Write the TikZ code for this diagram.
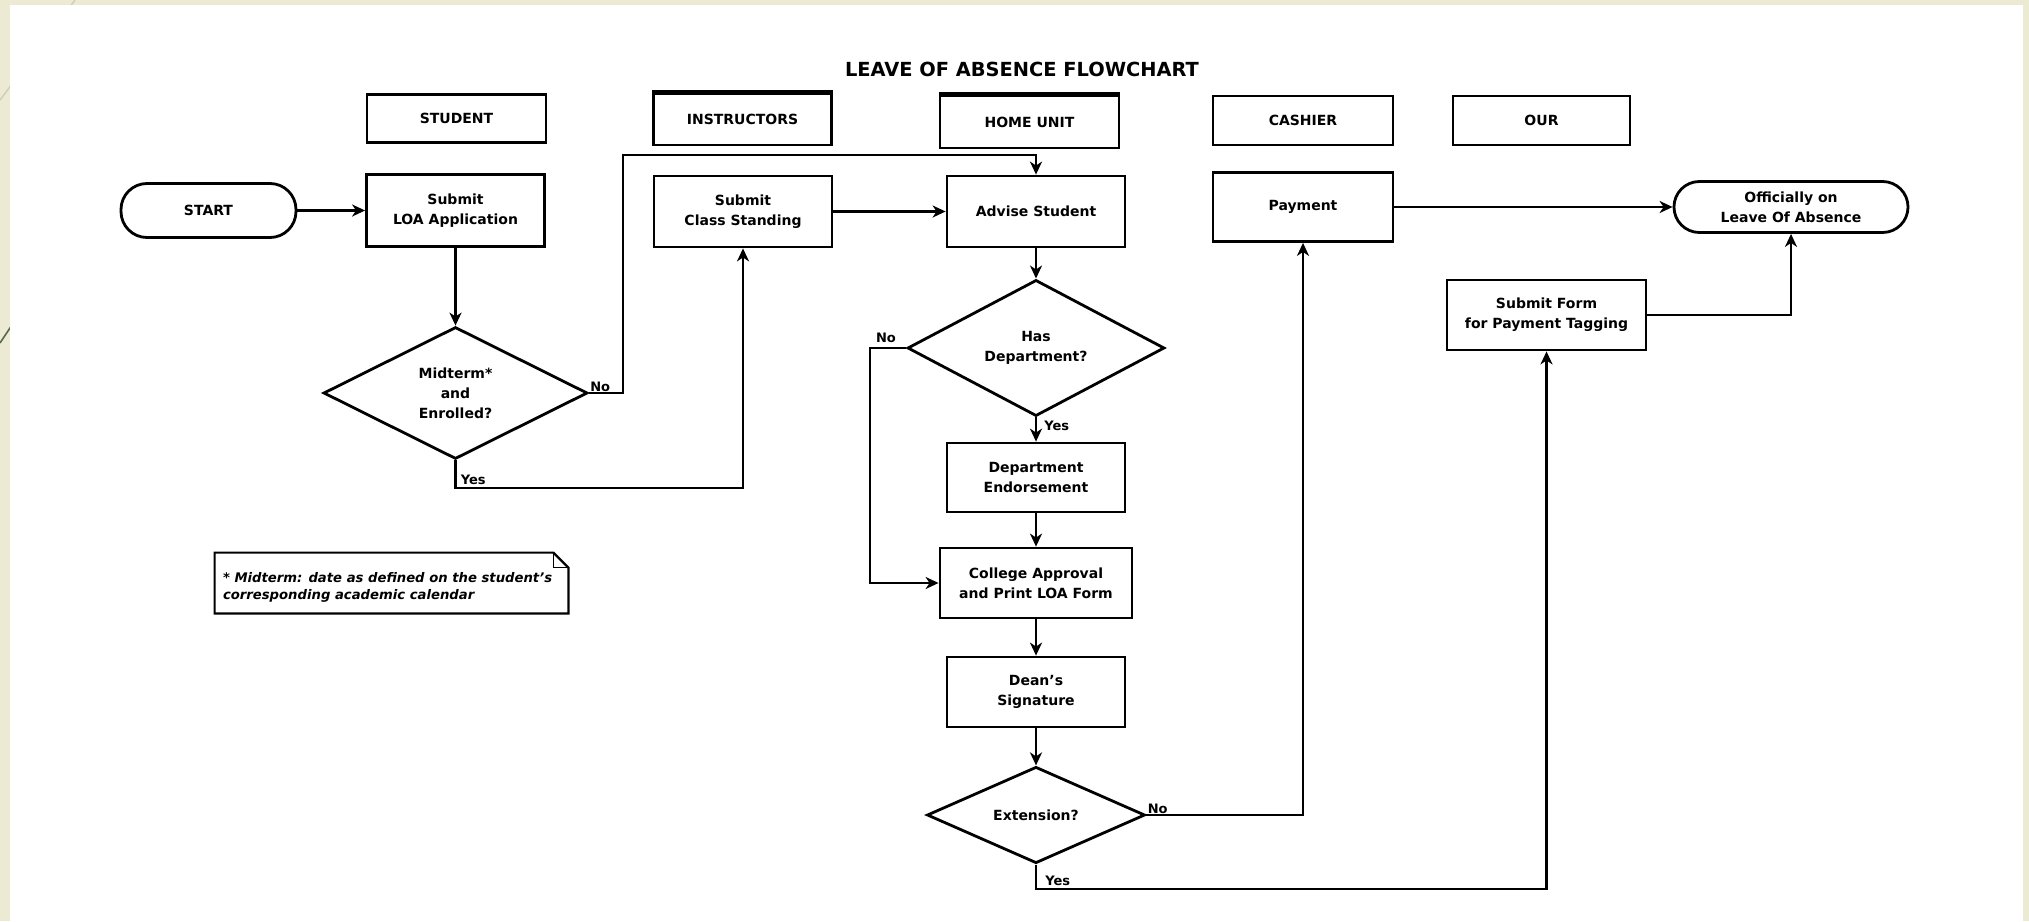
\documentclass[tikz,border=0pt]{standalone}
\usepackage{fontspec}
\setmainfont{DejaVu Sans}
\usetikzlibrary{shapes.geometric,arrows.meta}
\definecolor{slidebg}{RGB}{237,234,212}
\definecolor{lightln}{RGB}{200,203,182}
\definecolor{darkln}{RGB}{92,104,72}
\tikzset{
  box/.style={draw, line width=1.4pt, rectangle, inner sep=0pt, align=center,
    font=\fontsize{7}{10}\selectfont\bfseries},
  term/.style={box, rounded corners=13pt},
  dec/.style={draw, line width=1.4pt, diamond, inner sep=0pt, align=center,
    font=\fontsize{7}{10}\selectfont\bfseries},
  arr/.style={line width=1.1pt, -{Stealth[length=6.5pt,width=6pt,inset=2pt]}},
  lbl/.style={inner sep=0.5pt, font=\fontsize{6.5}{8}\selectfont\bfseries},
}
\begin{document}
\begin{tikzpicture}[x=0.5pt,y=-0.5pt]
\useasboundingbox (0,0) rectangle (2029,921);
% slide background
\fill[slidebg] (0,0) rectangle (2029,921);
\draw[lightln, line width=0.6pt] (75,0) -- (0,100);
\draw[darkln, line width=0.8pt] (40,283) -- (0,343);
\fill[white] (10,5) rectangle (2023,921);

% title
\node[font=\fontsize{9.7}{11}\selectfont\bfseries] (title) at (1022,69) {LEAVE OF ABSENCE FLOWCHART};

% lane headers
\node[box, minimum width=89.5pt, minimum height=24pt] (stu) at (456.5,118.5) {STUDENT};
\node[box, minimum width=89pt, minimum height=25.5pt] (ins) at (742.5,119.5) {INSTRUCTORS};
\node[box, minimum width=89.5pt, minimum height=26pt] (home) at (1029.5,122) {HOME UNIT};
\node[box, minimum width=90pt, minimum height=24.5pt] (cash) at (1303,120.5) {CASHIER};
\node[box, minimum width=88.5pt, minimum height=24.5pt] (our) at (1541.5,120.5) {OUR};
\draw[line width=2.4pt] (ins.north west) -- (ins.north east);
\draw[line width=2.4pt] (home.north west) -- (home.north east);

% flow nodes
\node[term, minimum width=87.5pt, minimum height=27pt] (start) at (208.5,210.5) {START};
\node[box, minimum width=89pt, minimum height=36pt] (loa) at (455.5,210.5) {Submit\\LOA Application};
\node[box, minimum width=89pt, minimum height=35.5pt] (cls) at (743,211.5) {Submit\\Class Standing};
\node[box, minimum width=89pt, minimum height=35.5pt] (adv) at (1036,211.5) {Advise Student};
\node[box, minimum width=90pt, minimum height=34.5pt] (pay) at (1303,207) {Payment};
\node[term, rounded corners=12.7pt, minimum width=117pt, minimum height=25.5pt] (off) at (1791,207) {Officially on\\Leave Of Absence};

\node[dec, minimum width=132pt, minimum height=66pt] (mid) at (455.5,393) {Midterm*\\and\\Enrolled?};
\node[dec, minimum width=128.5pt, minimum height=63pt] (dep) at (1036,348) {Has\\Department?};
\node[box, minimum width=89pt, minimum height=34.5pt] (end) at (1036,477.5) {Department\\Endorsement};
\node[box, minimum width=96pt, minimum height=35pt] (col) at (1036,583) {College Approval\\and Print LOA Form};
\node[box, minimum width=89pt, minimum height=35pt] (dean) at (1036,692) {Dean's\\Signature};
\node[dec, minimum width=109pt, minimum height=47pt] (ext) at (1036,815) {Extension?};
\node[box, minimum width=99.5pt, minimum height=35pt] (form) at (1546.5,315) {Submit Form\\for Payment Tagging};

% note
\node[inner sep=0pt, minimum width=176.5pt, minimum height=30pt] (note) at (391.5,583) {};
\draw[line width=1.1pt] (note.north west) -- ([xshift=-7.5pt]note.north east) -- ([yshift=-7.5pt]note.north east) -- (note.south east) -- (note.south west) -- cycle;
\draw[line width=0.8pt] ([xshift=-7.5pt]note.north east) |- ([yshift=-7.5pt]note.north east);
\node[anchor=west, align=left, inner sep=0pt, font=\fontsize{6.6}{8.5}\selectfont\bfseries\itshape] (notetext) at ([xshift=4pt,yshift=-2pt]note.west) {* Midterm: date as defined on the student's\\corresponding academic calendar};

% coordinates for bends
\coordinate (n1) at (623,155);
\coordinate (y1) at (455.5,488);
\coordinate (n2) at (870,348);
\coordinate (y3) at (1036,889);

% connectors
\draw[arr] (start.east) -- (loa.west);
\draw[arr] (loa.south) -- (mid.north);
\draw[arr] (mid.east) -| (n1) -| (adv.north);
\draw[arr] (mid.south) -- (y1) -| (cls.south);
\draw[arr] (cls.east) -- (adv.west);
\draw[arr] (adv.south) -- (dep.north);
\draw[arr] (dep.west) -- (n2) |- (col.west);
\draw[arr] (dep.south) -- (end.north);
\draw[arr] (end.south) -- (col.north);
\draw[arr] (col.south) -- (dean.north);
\draw[arr] (dean.south) -- (ext.north);
\draw[arr] (ext.east) -| (pay.south);
\draw[arr] (ext.south) -- (y3) -| (form.south);
\draw[arr] (pay.east) -- (off.west);
\draw[arr] (form.east) -| (off.south);

% branch labels
\node[lbl, anchor=south west] (l1) at (mid.east) {No};
\node[lbl, anchor=south west] (l2) at ([xshift=2pt,yshift=1pt]y1) {Yes};
\node[lbl, anchor=south] (l3) at (886,344) {No};
\node[lbl, anchor=west] (l4) at (1043,426) {Yes};
\node[lbl, anchor=south west] (l5) at (ext.east) {No};
\node[lbl, anchor=south west] (l6) at ([xshift=4pt,yshift=1pt]y3) {Yes};
\end{tikzpicture}
\end{document}
